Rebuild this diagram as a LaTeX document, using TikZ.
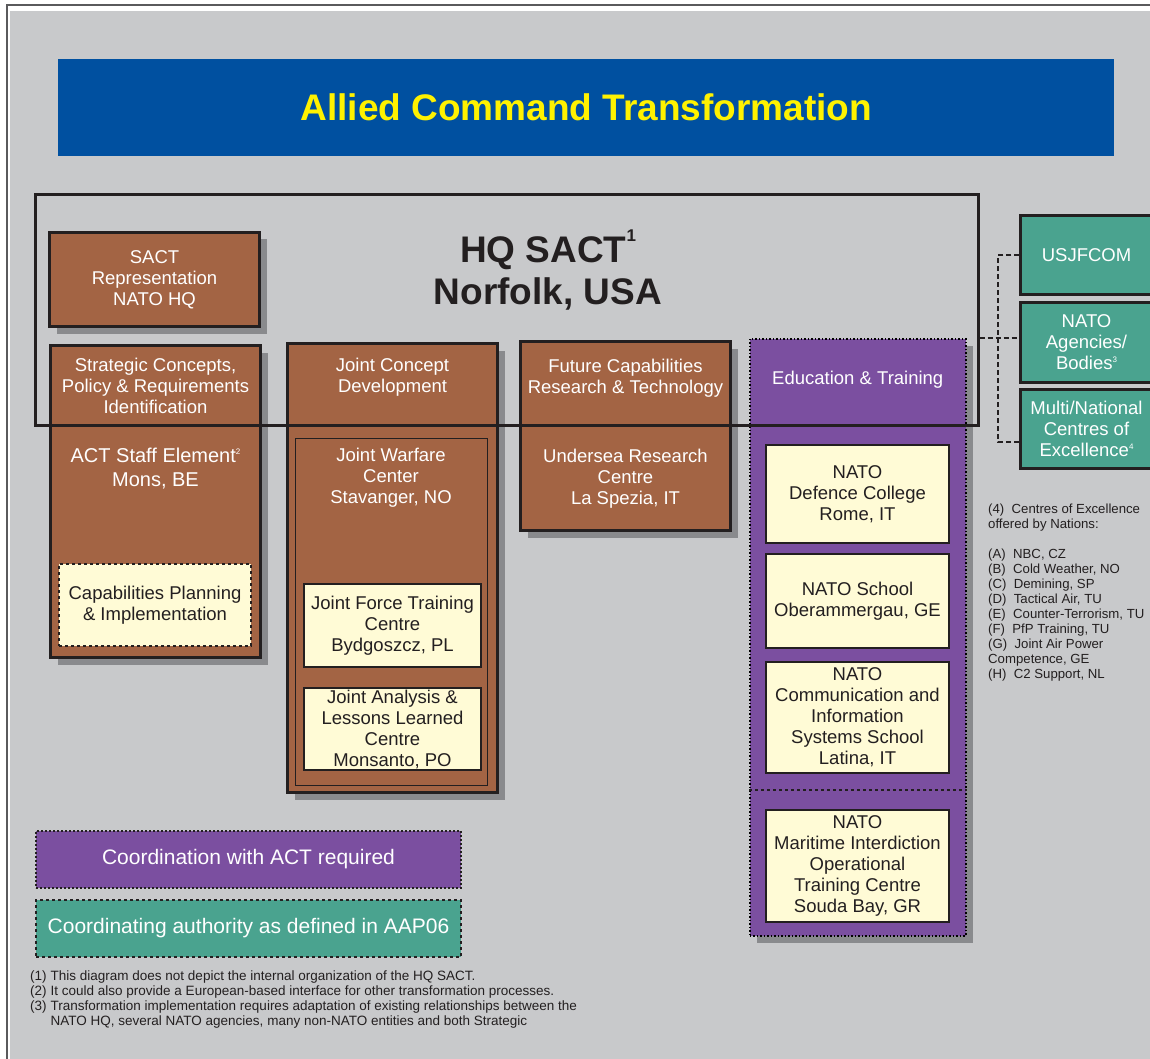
\documentclass[tikz,border=0pt]{standalone}
\usepackage{fontspec}
\setmainfont{Liberation Sans}
\usetikzlibrary{positioning,shadows}

\definecolor{bggray}{RGB}{200,201,203}
\definecolor{rimgray}{RGB}{90,90,92}
\definecolor{titleblue}{RGB}{0,80,160}
\definecolor{titleyellow}{RGB}{255,242,0}
\definecolor{actbrown}{RGB}{163,100,68}
\definecolor{linedark}{RGB}{35,31,32}
\definecolor{shadowgray}{RGB}{137,138,141}
\definecolor{paleyellow}{RGB}{255,251,214}
\definecolor{edupurple}{RGB}{123,79,160}
\definecolor{coegreen}{RGB}{74,163,143}

\newcommand{\boxfont}{\fontsize{18.5}{21}\selectfont}
\newcommand{\supnote}[1]{\raisebox{0.4em}{\fontsize{8}{8}\selectfont #1}}

\tikzset{
  boxshadow/.style={drop shadow={shadow xshift=7pt,shadow yshift=-7pt,fill=shadowgray,opacity=1}},
  actbox/.style={draw=linedark,line width=2.5pt,fill=actbrown,anchor=north west,inner sep=0pt,
    text=white,align=center,font=\boxfont,boxshadow},
  unitbox/.style={draw=linedark,line width=2pt,fill=paleyellow,anchor=north west,inner sep=0pt,
    text=linedark,align=center,font=\boxfont},
  coebox/.style={draw=linedark,line width=2.5pt,fill=coegreen,anchor=north west,inner sep=0pt,
    text=white,align=center,font=\boxfont},
  legendbox/.style={draw=linedark,line width=2pt,anchor=north west,inner sep=0pt,
    minimum width=425pt,minimum height=57pt,text=white,font=\fontsize{21}{25}\selectfont},
  boxtext/.style={text=white,align=center,font=\boxfont,inner sep=0pt},
  note/.style={text=linedark,align=left,anchor=north west,inner sep=0pt},
  conn/.style={draw=linedark,line width=2pt,dash pattern=on 5pt off 3pt},
}

\begin{document}
\begin{tikzpicture}[x=1pt,y=-1pt]
\useasboundingbox (0,0) rectangle (1150,1059);
\fill[white] (0,0) rectangle (1150,1059);
\fill[bggray] (10,11) rectangle (1160,1070);
\draw[rimgray,line width=2pt] (7,5) rectangle (1170,1080);

% title banner
\node[fill=titleblue,anchor=north west,minimum width=1056pt,minimum height=97pt,inner sep=0pt,
  text=titleyellow,font=\fontsize{37}{42}\selectfont\bfseries] (title) at (58,59) {Allied Command Transformation};

% ACT staff element column
\node[actbox,minimum width=210pt,minimum height=94pt] (sactrep) at (48.25,231.25)
  {SACT\\Representation\\NATO HQ};
\node[actbox,minimum width=210pt,minimum height=312pt] (strat) at (49.25,344.25) {};
\node[boxtext] (stratT) at ([yshift=-42pt]strat.north) {Strategic Concepts,\\Policy \& Requirements\\Identification};
\node[boxtext,font=\fontsize{20}{24}\selectfont] (staffT) at ([yshift=-124pt]strat.north)
  {ACT Staff Element\supnote{2}\\Mons, BE};
\node[unitbox,dashed,minimum width=192pt,minimum height=82pt] (cappl) at (58,563)
  {Capabilities Planning\\\& Implementation};

% joint concept development column
\node[actbox,minimum width=210pt,minimum height=449pt] (jcd) at (286.25,342.25) {};
\node[boxtext] (jcdT) at ([yshift=-35pt]jcd.north) {Joint Concept\\Development};
\node[draw=linedark,line width=1pt,anchor=north west,minimum width=192pt,minimum height=347pt,inner sep=0pt] (jwc) at (294.5,437.5) {};
\node[boxtext] (jwcT) at ([yshift=-40pt]jwc.north) {Joint Warfare\\Center\\Stavanger, NO};
\node[unitbox,minimum width=177pt,minimum height=83pt] (jftc) at (303,583)
  {Joint Force Training\\Centre\\Bydgoszcz, PL};
\node[unitbox,minimum width=177pt,minimum height=82pt] (jallc) at (303,687)
  {Joint Analysis \&\\Lessons Learned\\Centre\\Monsanto, PO};

% future capabilities column
\node[actbox,minimum width=210pt,minimum height=189pt] (fcrt) at (519.25,340.25) {};
\node[boxtext] (fcrtT) at ([yshift=-38pt]fcrt.north) {Future Capabilities\\Research \& Technology};
\node[boxtext] (nurcT) at ([yshift=-138pt]fcrt.north) {Undersea Research\\Centre\\La Spezia, IT};

% education and training column
\node[draw=black,dotted,line width=1.5pt,fill=edupurple,boxshadow,anchor=north west,
  minimum width=216pt,minimum height=597pt,inner sep=0pt] (edu) at (749,338) {};
\node[boxtext] (eduT) at ([yshift=-42pt]edu.north) {Education \& Training};
\path (edu.north west) ++(0,452) coordinate (eduline);
\draw[linedark,dashed,line width=1.5pt] (eduline) -- (eduline -| edu.east);
\node[unitbox,minimum width=183pt,minimum height=98pt] (ndc) at (765,444) {NATO\\Defence College\\Rome, IT};
\node[unitbox,minimum width=183pt,minimum height=94pt] (school) at (765,553) {NATO School\\Oberammergau, GE};
\node[unitbox,minimum width=183pt,minimum height=111pt] (ciss) at (765,661)
  {NATO\\Communication and\\Information\\Systems School\\Latina, IT};
\node[unitbox,minimum width=183pt,minimum height=112pt] (mioc) at (765,809)
  {NATO\\Maritime Interdiction\\Operational\\Training Centre\\Souda Bay, GR};

% HQ SACT frame
\node[draw=linedark,line width=3pt,anchor=north west,minimum width=943pt,minimum height=230pt,inner sep=0pt] (hq) at (33.5,193.5) {};
\node[text=linedark,align=center,font=\fontsize{37}{42}\selectfont\bfseries] (hqT) at (548,270)
  {HQ SACT\raisebox{0.55em}{\fontsize{17}{17}\selectfont 1}\\Norfolk, USA};

% coordinating authorities
\node[coebox,minimum width=132pt,minimum height=79pt] (usjfcom) at (1019.25,214.25) {USJFCOM};
\node[coebox,minimum width=132pt,minimum height=80pt] (agencies) at (1019.25,301.25) {NATO\\Agencies/\\Bodies\supnote{3}};
\node[coebox,minimum width=132pt,minimum height=79pt] (coe) at (1019.25,388.25) {Multi/National\\Centres of\\Excellence\supnote{4}};

\coordinate (agencyin) at ([yshift=5pt]agencies.west);
\coordinate (coein) at ([yshift=-13pt]coe.west);
\draw[conn] (hq.east |- agencyin) -- (agencyin);
\draw[conn] (usjfcom.west) -- ++(-21,0) |- (coein);

% notes
\node[note,font=\fontsize{13.2}{15}\selectfont] (coenotes) at (988,504)
  {(4)\ \ Centres of Excellence\\offered by Nations:\\[15pt]
   (A)\ \ NBC, CZ\\(B)\ \ Cold Weather, NO\\(C)\ \ Demining, SP\\(D)\ \ Tactical Air, TU\\
   (E)\ \ Counter-Terrorism, TU\\(F)\ \ PfP Training, TU\\(G)\ \ Joint Air Power\\
   Competence, GE\\(H)\ \ C2 Support, NL};

% legend
\node[legendbox,dotted,fill=edupurple] (legcoord) at (35,830) {Coordination with ACT required};
\node[legendbox,dashed,fill=coegreen] (legauth) at (35,899) {Coordinating authority as defined in AAP06};

\node[note,font=\fontsize{13.5}{15}\selectfont] (footnotes) at (30,969.5)
  {\begin{tabular}{@{}l@{\hspace{4pt}}l@{}}
   (1)&This diagram does not depict the internal organization of the HQ SACT.\\
   (2)&It could also provide a European-based interface for other transformation processes.\\
   (3)&Transformation implementation requires adaptation of existing relationships between the\\
   &NATO HQ, several NATO agencies, many non-NATO entities and both Strategic
   \end{tabular}};
\end{tikzpicture}
\end{document}
